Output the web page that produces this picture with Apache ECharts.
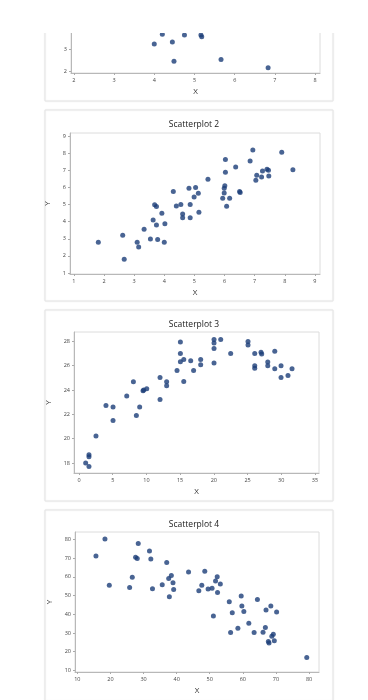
<!DOCTYPE html>
<html>
<head>
<meta charset="utf-8">
<script src="https://cdn.jsdelivr.net/npm/echarts@6/dist/echarts.min.js"></script>
<style>html,body{margin:0;padding:0;background:#fff}#c{width:368px;height:700px}</style>
</head>
<body>
<div id="c"></div>
<script>
// ---- Data ----
var titles = ['Scatterplot 1', 'Scatterplot 2', 'Scatterplot 3', 'Scatterplot 4'];

var p1x = [4.0, 4.2, 4.45, 4.49, 4.75, 5.16, 5.18, 5.66, 6.83];
var p1y = [3.23, 3.68, 3.33, 2.45, 3.64, 3.64, 3.56, 2.53, 2.15];
var p1xTicks = [2, 3, 4, 5, 6, 7, 8];
var p1yTicks = [2, 3, 4, 5, 6, 7, 8];

var p2x = [1.81, 2.62, 2.67, 3.1, 3.15, 3.33, 3.54, 3.63, 3.68, 3.74, 3.74, 3.78, 3.92, 4.02, 4.0, 4.3, 4.4, 4.55, 4.61, 4.61, 4.82, 4.86, 4.86, 4.99, 5.04, 5.13, 5.15, 5.45, 5.94, 5.99, 5.99, 6.01, 6.03, 6.03, 6.07, 6.17, 6.37, 6.5, 6.52, 6.85, 6.94, 7.04, 7.07, 7.23, 7.26, 7.41, 7.46, 7.47, 7.9, 8.27];
var p2y = [2.79, 3.2, 1.8, 2.79, 2.52, 3.55, 2.99, 4.1, 4.98, 4.88, 3.81, 2.95, 4.49, 3.87, 2.79, 5.76, 4.92, 5.0, 4.45, 4.23, 5.95, 5.0, 4.23, 5.44, 6.0, 5.66, 4.55, 6.48, 5.37, 5.68, 5.95, 6.1, 7.63, 6.89, 4.9, 5.37, 7.2, 5.76, 5.7, 7.55, 8.18, 6.42, 6.71, 6.61, 6.96, 7.06, 7.0, 6.67, 8.06, 7.03];
var p2xTicks = [1, 2, 3, 4, 5, 6, 7, 8, 9];
var p2yTicks = [1, 2, 3, 4, 5, 6, 7, 8, 9];

var p3x = [0.99, 1.48, 1.48, 1.48, 2.52, 4.0, 5.05, 5.05, 7.08, 8.07, 8.51, 9.0, 9.5, 9.6, 10.05, 12.02, 12.02, 13.0, 13.0, 14.54, 15.04, 15.04, 15.04, 15.54, 15.54, 16.57, 17.0, 18.05, 18.05, 20.03, 20.03, 20.03, 20.03, 21.02, 22.5, 25.07, 25.07, 26.07, 26.07, 26.07, 27.0, 27.1, 28.0, 28.0, 29.04, 29.04, 29.97, 29.97, 31.0, 31.6];
var p3y = [18.0, 17.72, 18.68, 18.52, 20.22, 22.73, 22.6, 21.5, 23.5, 24.68, 21.91, 22.6, 23.94, 24.0, 24.1, 25.03, 23.23, 24.68, 24.35, 25.61, 27.94, 27.0, 26.32, 26.5, 24.7, 26.4, 25.61, 26.5, 26.08, 28.16, 27.86, 27.42, 26.22, 28.16, 27.0, 27.99, 27.7, 27.0, 26.0, 25.8, 27.1, 26.97, 26.3, 26.0, 27.19, 25.75, 26.0, 25.03, 25.2, 25.75];
var p3xTicks = [0, 5, 10, 15, 20, 25, 30, 35];
var p3yTicks = [18, 20, 22, 24, 26, 28];

var p4x = [15.63, 18.35, 19.66, 25.8, 26.6, 27.6, 28.1, 28.4, 31.8, 32.2, 32.7, 35.65, 37.0, 37.6, 37.8, 38.4, 38.9, 39.1, 43.6, 46.7, 47.6, 48.5, 49.5, 50.7, 51.1, 51.75, 52.25, 52.35, 53.2, 55.9, 56.3, 56.8, 58.5, 59.5, 59.7, 60.3, 61.8, 63.4, 64.4, 66.1, 66.8, 67.0, 67.7, 67.9, 68.45, 68.75, 69.2, 69.5, 70.2, 79.3];
var p4y = [71.1, 80.2, 55.5, 54.3, 59.8, 70.4, 69.7, 77.7, 73.8, 69.5, 53.6, 55.7, 67.6, 59.1, 49.3, 60.7, 56.8, 53.2, 62.6, 52.5, 55.5, 63.0, 53.4, 53.8, 39.1, 57.8, 60.0, 51.6, 56.2, 46.7, 30.2, 40.8, 32.5, 49.7, 44.4, 41.5, 35.2, 30.2, 47.9, 30.4, 32.9, 42.2, 25.4, 24.7, 44.4, 28.2, 29.3, 25.8, 41.2, 16.9];
var p4xTicks = [10, 20, 30, 40, 50, 60, 70, 80];
var p4yTicks = [10, 20, 30, 40, 50, 60, 70, 80];

// ---- Layout / style ----
var FONT = '"Open Sans", "Noto Sans", sans-serif';
var DOT = '#1c3d78';
var panels = [
  {x: p1x, y: p1y, xt: p1xTicks, yt: p1yTicks, xr: [1.93, 8.12], yr: [1.91, 8.3], grid: {left: 71, top: -67, width: 249, height: 140}},
  {x: p2x, y: p2y, xt: p2xTicks, yt: p2yTicks, xr: [0.87, 9.17], yr: [0.94, 9.18], grid: {left: 70, top: 133, width: 250, height: 141}},
  {x: p3x, y: p3y, xt: p3xTicks, yt: p3yTicks, xr: [-0.74, 35.6], yr: [17.18, 28.77], grid: {left: 74, top: 332, width: 245, height: 141}},
  {x: p4x, y: p4y, xt: p4xTicks, yt: p4yTicks, xr: [9.3, 83.0], yr: [9.15, 83.9], grid: {left: 75, top: 532, width: 244, height: 140}}
];

function zip(a, b) { return a.map(function (v, i) { return [v, b[i]]; }); }

var grids = [], xAxes = [], yAxes = [], series = [], titleArr = [], graphics = [];
panels.forEach(function (p, i) {
  var boxTop = -90 + 200 * i;
  graphics.push({type: 'rect', z: -10, shape: {x: 45, y: boxTop, width: 288, height: 191},
    style: {fill: '#fff', stroke: '#e4e4e4', lineWidth: 1, shadowBlur: 2, shadowColor: 'rgba(0,0,0,0.06)'}});
  grids.push(Object.assign({show: true, borderColor: '#dcdcdc', borderWidth: 1, backgroundColor: '#fff',
    containLabel: false, outerBoundsMode: 'none'}, p.grid));
  var axisCommon = {
    axisLine: {show: true, onZero: false, lineStyle: {color: '#b8b8b8', width: 1}},
    splitLine: {show: false},
    nameTextStyle: {fontFamily: FONT, fontSize: 8, color: '#333'}
  };
  xAxes.push(Object.assign({}, axisCommon, {
    type: 'value', gridIndex: i, min: p.xr[0], max: p.xr[1],
    name: 'X', nameLocation: 'middle', nameGap: 15,
    axisTick: {show: true, length: 2, lineStyle: {color: '#aaa'}, customValues: p.xt},
    axisLabel: {fontFamily: FONT, fontSize: 5.5, color: '#444', margin: 4, customValues: p.xt}
  }));
  yAxes.push(Object.assign({}, axisCommon, {
    type: 'value', gridIndex: i, min: p.yr[0], max: p.yr[1],
    name: 'Y', nameLocation: 'middle', nameGap: 13, nameRotate: 90,
    axisTick: {show: true, length: 2, lineStyle: {color: '#aaa'}, customValues: p.yt},
    axisLabel: {fontFamily: FONT, fontSize: 5.5, color: '#444', margin: 4, customValues: p.yt}
  }));
  series.push({type: 'scatter', xAxisIndex: i, yAxisIndex: i, data: zip(p.x, p.y),
    symbol: 'circle', symbolSize: 5, itemStyle: {color: DOT}, clip: true, silent: true});
  titleArr.push({text: titles[i], left: 189, top: boxTop + 5.5, textAlign: 'center',
    textStyle: {fontFamily: FONT, fontSize: 8.5, fontWeight: 'normal', color: '#1a1a1a'}});
});
// white strip over the top of the page (clipped first panel)
graphics.push({type: 'rect', z: 100, shape: {x: 0, y: 0, width: 368, height: 33}, style: {fill: '#fff'}});

var chart = echarts.init(document.getElementById('c'), null, {renderer: 'canvas'});
chart.setOption({
  backgroundColor: '#fff',
  animation: false,
  title: titleArr,
  grid: grids,
  xAxis: xAxes,
  yAxis: yAxes,
  series: series,
  graphic: graphics
});
</script>
</body>
</html>
